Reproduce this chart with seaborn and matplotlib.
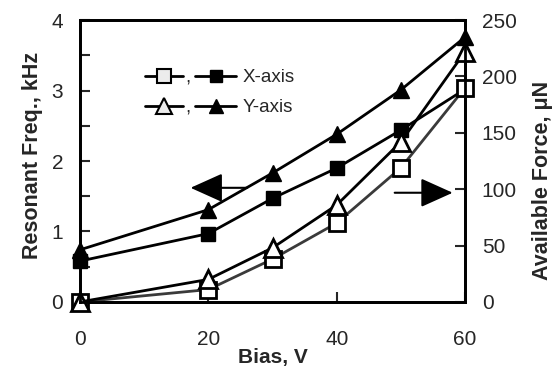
import matplotlib
matplotlib.use("Agg")
import matplotlib.pyplot as plt
import seaborn as sns
import pandas as pd
from matplotlib.lines import Line2D

# ---- data ----
bias = [0, 20, 30, 40, 50, 60]
freq_x = [0.58, 0.97, 1.47, 1.90, 2.44, 3.02]   # filled squares, kHz
freq_y = [0.74, 1.31, 1.83, 2.38, 3.01, 3.76]   # filled triangles, kHz
force_x = [0, 11, 38, 70, 119, 190]             # open squares, uN
force_y = [0, 20, 48, 86, 142, 222]             # open triangles, uN

sns.set_theme(style="white")
plt.rcParams['font.family'] = ['Liberation Sans', 'DejaVu Sans']

fig = plt.figure(figsize=(5.59, 3.66), dpi=100)
ax1 = fig.add_axes([0.143, 0.175, 0.689, 0.770])
ax2 = ax1.twinx()

df = pd.DataFrame({"bias": bias, "freq_x": freq_x, "freq_y": freq_y,
                   "force_x": force_x, "force_y": force_y})

# resonant frequency (left axis), filled markers
sns.lineplot(data=df, x="bias", y="freq_y", ax=ax1, color="black", lw=2,
             marker="^", markersize=12, markerfacecolor="black",
             markeredgecolor="black", markeredgewidth=1, clip_on=False)
sns.lineplot(data=df, x="bias", y="freq_x", ax=ax1, color="black", lw=2,
             marker="s", markersize=10.5, markerfacecolor="black",
             markeredgecolor="black", markeredgewidth=1, clip_on=False)

# available force (right axis), open markers drawn on top
sns.lineplot(data=df, x="bias", y="force_x", ax=ax2, color="#3a3a3a", lw=2,
             marker="s", markersize=11, markerfacecolor="white",
             markeredgecolor="black", markeredgewidth=2, clip_on=False)
sns.lineplot(data=df, x="bias", y="force_y", ax=ax2, color="black", lw=2,
             marker="^", markersize=12.5, markerfacecolor="white",
             markeredgecolor="black", markeredgewidth=2, clip_on=False)

for a in (ax1, ax2):
    a.set_xlim(0, 60)
    for s in a.spines.values():
        s.set_linewidth(2)
        s.set_color("black")
    a.grid(False)

ax1.set_ylim(0, 4)
ax2.set_ylim(0, 250)
ax1.set_xticks([0, 20, 40, 60])
ax1.set_yticks([0, 1, 2, 3, 4])
ax1.set_yticks([0.5, 1.5, 2.5, 3.5], minor=True)
ax2.set_yticks([0, 50, 100, 150, 200, 250])

ax1.tick_params(axis="x", direction="in", length=7, width=1.5, pad=20,
                labelsize=15, bottom=True)
ax1.tick_params(axis="y", which="both", direction="in", length=7, width=1.5,
                pad=12, labelsize=15, left=True)
ax2.tick_params(axis="y", direction="in", length=7, width=1.5, pad=12,
                labelsize=15, right=True)

ax1.set_xlabel("Bias, V", fontsize=15, fontweight="bold")
ax1.set_ylabel("Resonant Freq., kHz", fontsize=15.5, fontweight="bold")
ax2.set_ylabel("Available Force, \u03bcN", fontsize=15.5, fontweight="bold")
ax1.xaxis.set_label_coords(0.5, -0.162)
ax1.yaxis.set_label_coords(-0.095, 0.52)
ax2.yaxis.set_label_coords(1.175, 0.43)

# arrows pointing to the axes
ax1.annotate("", xy=(16.8, 1.62), xytext=(26.5, 1.62),
             arrowprops=dict(arrowstyle="-|>,head_length=1.0,head_width=0.45",
                             mutation_scale=20, lw=1.5, color="black"))
ax1.annotate("", xy=(58.5, 1.55), xytext=(48.6, 1.55),
             arrowprops=dict(arrowstyle="-|>,head_length=1.0,head_width=0.45",
                             mutation_scale=20, lw=1.5, color="black"))

# legend: open marker, comma, filled marker, label
open_sq = Line2D([], [], color="black", lw=2, marker="s", markersize=10,
                 markerfacecolor="#ececec", markeredgecolor="black", markeredgewidth=1.5)
open_tri = Line2D([], [], color="black", lw=2, marker="^", markersize=11,
                  markerfacecolor="#ececec", markeredgecolor="black", markeredgewidth=1.5)
fill_sq = Line2D([], [], color="black", lw=2, marker="s", markersize=9,
                 markerfacecolor="black", markeredgecolor="black")
fill_tri = Line2D([], [], color="black", lw=2, marker="^", markersize=10,
                  markerfacecolor="black", markeredgecolor="black")

leg1 = ax2.legend([open_sq, open_tri], [",", ","], loc="upper left",
                  bbox_to_anchor=(0.145, 0.86), frameon=False, fontsize=13.5,
                  handlelength=2.0, handletextpad=0.15, labelspacing=0.7,
                  borderpad=0)
ax2.add_artist(leg1)
ax2.legend([fill_sq, fill_tri], ["X-axis", "Y-axis"], loc="upper left",
           bbox_to_anchor=(0.275, 0.86), frameon=False, fontsize=13.5,
           handlelength=2.2, handletextpad=0.3, labelspacing=0.7,
           borderpad=0)

fig.savefig("out.png", dpi=100)
